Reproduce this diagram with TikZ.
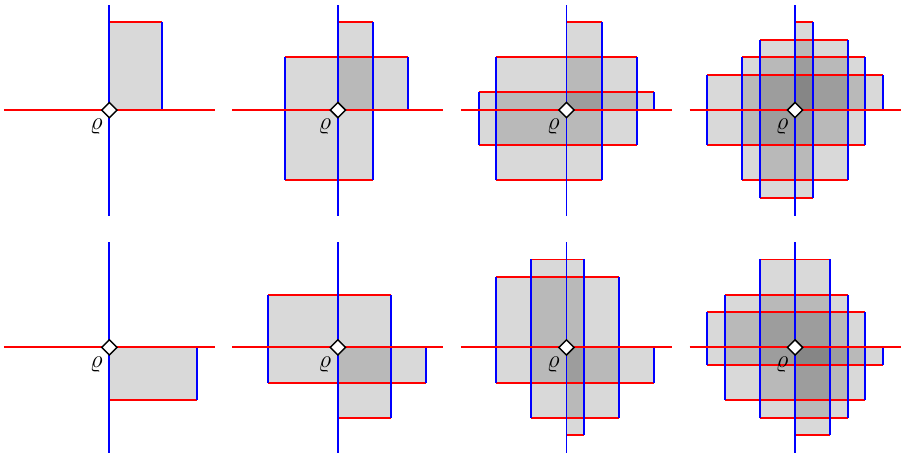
\documentclass[tikz,border=0pt]{standalone}
\usetikzlibrary{shapes.geometric}

\definecolor{edgered}{RGB}{255,0,0}
\definecolor{edgeblue}{RGB}{0,0,255}

\tikzset{
  cell/.style={draw=none, fill=black, fill opacity=0.15},
  hedge/.style={draw=edgered, line width=0.95pt},
  vedge/.style={draw=edgeblue, line width=0.95pt},
  haxis/.style={draw=edgered, line width=0.95pt},
  vaxis/.style={draw=edgeblue, line width=0.95pt},
  origin/.style={diamond, draw=black, fill=white, line width=0.7pt,
    inner sep=0pt, minimum width=0.27cm, minimum height=0.27cm},
  rho/.style={inner sep=0pt, font=\fontsize{11.5}{13}\selectfont}
}

% One panel: name, centre x, centre y, list of quadrant corners p/q;
% every corner spans a box from the origin to (p,q).
\newcommand\quadpanel[4]{%
  \begin{scope}[shift={(#2,#3)}]
    \foreach \cx/\cy in {#4} {\path[cell] (0,0) rectangle (\cx,\cy);}
    \foreach \cx/\cy in {#4} {\path[hedge] (0,\cy) -- (\cx,\cy);}
    \foreach \cx/\cy in {#4} {\path[vedge] (\cx,0) -- (\cx,\cy);}
    \coordinate (#1W) at (-6,0);
    \coordinate (#1E) at (6,0);
    \coordinate (#1S) at (0,-6);
    \coordinate (#1N) at (0,6);
    \path[haxis] (#1W) -- (#1E);
    \path[vaxis] (#1S) -- (#1N);
    \node[origin] (#1) at (0,0) {};
    \node[rho] (#1lab) at (-0.74,-0.95) {$\varrho$};
  \end{scope}}

\begin{document}
\begin{tikzpicture}[x=0.3cm, y=0.3cm]
  \useasboundingbox (0,0) rectangle (51.36,26);

  % upper row
  \quadpanel{pa}{6.22}{19.74}{3/5}
  \quadpanel{pb}{19.22}{19.74}{2/5, 4/3, -3/3, -3/-4, 2/-4}
  \quadpanel{pc}{32.22}{19.74}{2/5, 4/3, 5/1, -4/3, -5/1, -5/-2, -4/-4, 4/-2, 2/-4}
  \quadpanel{pd}{45.22}{19.74}{1/5, 3/4, 4/3, 5/2, -2/4, -3/3, -5/2, -5/-2, -3/-4, -2/-5, 4/-2, 3/-4, 1/-5}

  % lower row
  \quadpanel{qa}{6.22}{6.24}{5/-3}
  \quadpanel{qb}{19.22}{6.24}{3/3, -4/3, -4/-2, 5/-2, 3/-4}
  \quadpanel{qc}{32.22}{6.24}{1/5, 3/4, -2/5, -4/4, -4/-2, -2/-4, 5/-2, 3/-4, 1/-5}
  \quadpanel{qd}{45.22}{6.24}{2/5, 3/3, 4/2, -2/5, -4/3, -5/2, -5/-1, -4/-3, -2/-4, 5/-1, 4/-3, 3/-4, 2/-5}
\end{tikzpicture}
\end{document}
